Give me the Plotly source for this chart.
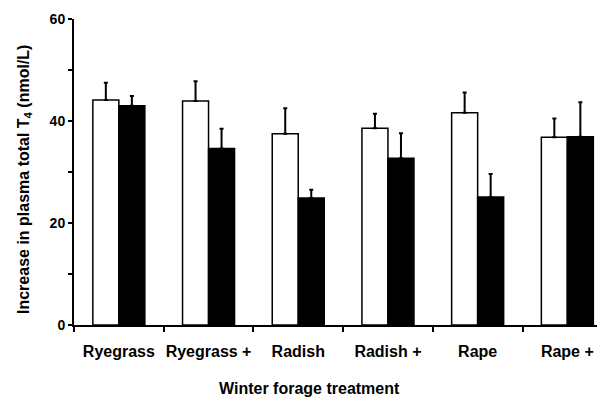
import plotly.graph_objects as go

categories = ["Ryegrass", "Ryegrass +", "Radish", "Radish +", "Rape", "Rape +"]
white_values = [44.1, 43.9, 37.5, 38.6, 41.6, 36.8]
white_errors = [3.4, 3.9, 5.0, 2.8, 4.0, 3.7]
black_values = [43.0, 34.6, 24.9, 32.7, 25.1, 36.9]
black_errors = [1.9, 3.9, 1.6, 4.9, 4.5, 6.8]
y_tick_values = [0, 20, 40, 60]

FONT = "Liberation Sans, Arial, sans-serif"

# plot area in figure pixels (page adds an 8px body margin)
L, T, B_EDGE, W_PLOT, H_PLOT = 66, 11, 317, 539, 306

fig = go.Figure()
fig.add_trace(go.Bar(
    name="Group 1", x=categories, y=white_values,
    marker=dict(color="white", line=dict(color="black", width=1.5)),
    error_y=dict(type="data", symmetric=False, array=white_errors,
                 arrayminus=[0] * len(white_errors),
                 color="black", thickness=2, width=2),
))
fig.add_trace(go.Bar(
    name="Group 2", x=categories, y=black_values,
    marker=dict(color="black", line=dict(color="black", width=1.5)),
    error_y=dict(type="data", symmetric=False, array=black_errors,
                 arrayminus=[0] * len(black_errors),
                 color="black", thickness=2, width=2),
))

fig.update_layout(
    width=605, height=398,
    margin=dict(l=L, r=0, t=T, b=398 - B_EDGE, autoexpand=False),
    barmode="group", bargap=0.42, bargroupgap=0,
    plot_bgcolor="white", paper_bgcolor="white",
    showlegend=False,
    font=dict(family=FONT, color="black"),
)
fig.update_xaxes(
    type="category", range=[-0.5, -0.5 + W_PLOT / 89.7], automargin=False, tickangle=0,
    showline=True, linecolor="black", linewidth=2,
    ticks="outside", tickson="boundaries", ticklen=5, tickwidth=2, tickcolor="black",
    tickfont=dict(size=16, family=FONT, weight="bold", color="black"),
    ticklabelstandoff=11,
    showgrid=False, zeroline=False,
)
fig.update_yaxes(
    range=[0, 60], tickvals=y_tick_values, automargin=False,
    showline=True, linecolor="black", linewidth=2,
    ticks="outside", ticklen=4, tickwidth=2, tickcolor="black",
    minor=dict(dtick=10, ticks="outside", ticklen=4, tickwidth=2, tickcolor="black", showgrid=False),
    tickfont=dict(size=14, family=FONT, weight="bold", color="black"),
    ticklabelstandoff=0,
    showgrid=False, zeroline=False,
)
fig.add_annotation(
    text="Increase in plasma total T<sub>4</sub> (nmol/L)",
    xref="paper", yref="paper", x=(16 - L) / W_PLOT, y=(B_EDGE - 172) / H_PLOT,
    xanchor="center", yanchor="middle", textangle=-90, showarrow=False,
    font=dict(size=16, family=FONT, weight="bold", color="black"),
)
fig.add_annotation(
    text="Winter forage treatment",
    xref="paper", yref="paper", x=(301 - L) / W_PLOT, y=(B_EDGE - 380) / H_PLOT,
    xanchor="center", yanchor="middle", showarrow=False,
    font=dict(size=16, family=FONT, weight="bold", color="black"),
)
fig.write_html("out.html")
